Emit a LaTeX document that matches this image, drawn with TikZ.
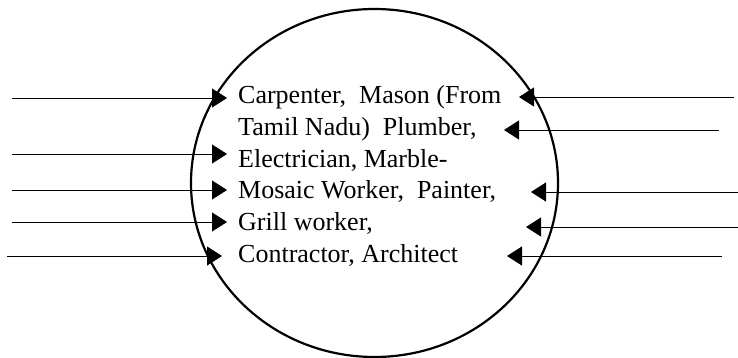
\documentclass[tikz,border=0pt]{standalone}
\usepackage{fontspec}
\setmainfont{Liberation Serif}
\usepackage{xcolor}
\definecolor{cLine}{HTML}{000000}
\usepackage{tikz}
\usetikzlibrary{arrows.meta,shapes.geometric}
\tikzset{
  node-trade/.style={draw=cLine,line width=2.2pt,ellipse,
    minimum width=367pt,minimum height=348pt,inner sep=0pt},
  node-list/.style={align=left,inner sep=0pt,
    font=\fontsize{26}{31.8}\selectfont},
  % inputs come in from both sides, all with the same solid head
  arrow-in/.style={-{Triangle[length=15pt,width=19pt]},line width=0.8pt,draw=cLine},
}

\begin{document}
\begin{tikzpicture}[x=1pt,y=-1pt]
  \useasboundingbox (0,0) rectangle (738,358);
  \node[node-trade] (trade) at (374.5,183) {};
  \node[node-list,anchor=west] (list) at (238,176)
    {Carpenter,\ \ Mason (From\\Tamil Nadu)\ \ Plumber,\\Electrician, Marble-\\
     Mosaic Worker,\ \ Painter,\\Grill worker,\\Contractor, Architect};
  % left side
  \foreach \i/\xa/\xb/\y in {1/12/227/98,2/12/227/154,3/12/227/190,4/12/227/222,5/7/222/256}{
    \coordinate (l\i-from) at (\xa,\y);
    \coordinate (l\i-to) at (\xb,\y);
    \draw[arrow-in] (l\i-from) -- (l\i-to);
  }
  % right side
  \foreach \i/\xa/\xb/\y in {1/734/519/97,2/719/504/130,3/738/531/192,4/738/526/227,5/722/507/256}{
    \coordinate (r\i-from) at (\xa,\y);
    \coordinate (r\i-to) at (\xb,\y);
    \draw[arrow-in] (r\i-from) -- (r\i-to);
  }
\end{tikzpicture}
\end{document}
